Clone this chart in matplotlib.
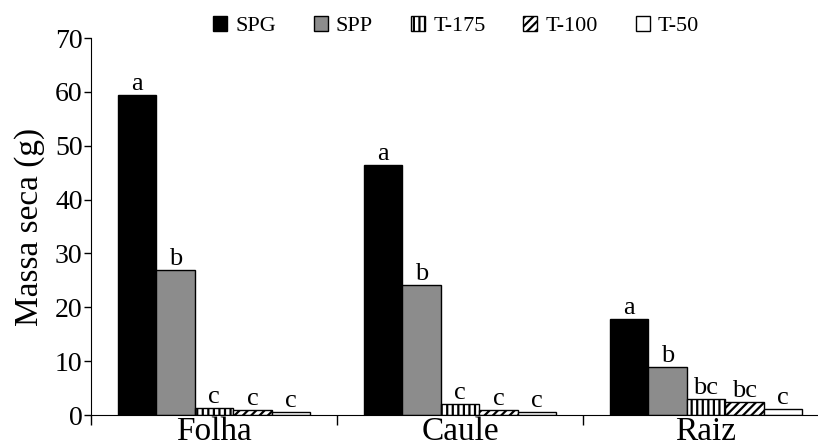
import numpy as np
import matplotlib.pyplot as plt

plt.rcParams['font.family'] = ['Liberation Serif', 'DejaVu Serif']
plt.rcParams['hatch.linewidth'] = 1.6

categories = ['Folha', 'Caule', 'Raiz']
series = ['SPG', 'SPP', 'T-175', 'T-100', 'T-50']
values = {
    'SPG': [59.5, 46.5, 17.8],
    'SPP': [26.9, 24.1, 9.0],
    'T-175': [1.3, 2.0, 3.0],
    'T-100': [1.0, 1.0, 2.4],
    'T-50': [0.5, 0.5, 1.1],
}
letters = {
    'SPG': ['a', 'a', 'a'],
    'SPP': ['b', 'b', 'b'],
    'T-175': ['c', 'c', 'bc'],
    'T-100': ['c', 'c', 'bc'],
    'T-50': ['c', 'c', 'c'],
}

colors = ['black', '#8c8c8c', 'white', 'white', 'white']
hatches = [None, None, '|||', '////', None]

fig = plt.figure(figsize=(8.18, 4.48), dpi=100)
ax = fig.add_axes([91 / 818, 33 / 448, 738 / 818, 377 / 448])

w = 0.156
x = np.arange(len(categories)) + 0.5
for i, s in enumerate(series):
    pos = x + (i - 2) * w
    ax.bar(pos, values[s], width=w, color=colors[i], edgecolor='black',
           linewidth=1.0, hatch=hatches[i], label=s)
    for px, v, t in zip(pos, values[s], letters[s]):
        ax.annotate(t, (px, v), xytext=(0, 0), textcoords='offset points',
                    ha='center', va='bottom', fontsize=19)

ax.set_xlim(0, 3)
ax.set_ylim(0, 70)
ax.set_yticks(np.arange(0, 71, 10))
ax.tick_params(axis='y', labelsize=20, length=5, width=1, pad=1)
ax.set_xticks([0, 1, 2, 3])
ax.set_xticklabels([])
ax.set_xticks(x, minor=True)
ax.set_xticklabels(categories, minor=True, fontsize=24)
ax.tick_params(axis='x', which='major', length=7, width=1)
ax.tick_params(axis='x', which='minor', length=0, pad=1)
ax.spines['top'].set_visible(False)
ax.spines['right'].set_visible(False)
ax.set_ylabel('Massa seca (g)', fontsize=24, labelpad=7)

ax.legend(ncol=5, frameon=False, loc='center left',
          bbox_to_anchor=(213 / 818, 1 - 26 / 448), bbox_transform=fig.transFigure,
          fontsize=16, handlelength=0.64, handleheight=0.64, handletextpad=0.36,
          columnspacing=1.7, borderpad=0, borderaxespad=0)

fig.savefig('out.png', dpi=100)
